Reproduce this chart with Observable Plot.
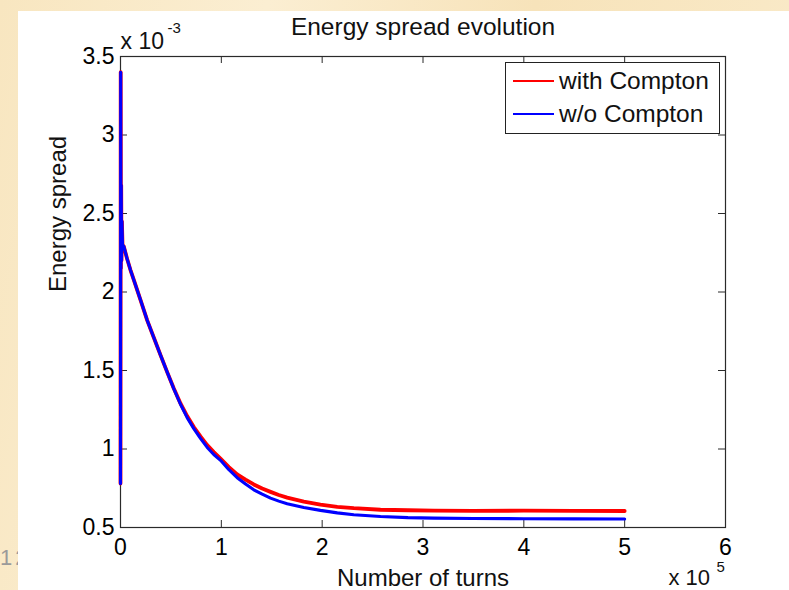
<!DOCTYPE html>
<html>
<head>
<meta charset="utf-8">
<script src="https://cdn.jsdelivr.net/npm/d3@7"></script>
<script src="https://cdn.jsdelivr.net/npm/@observablehq/plot@0.6"></script>
<style>
  html, body { margin: 0; padding: 0; }
  body {
    width: 789px; height: 590px; overflow: hidden; position: relative;
    background: linear-gradient(100deg, #f8e6c0 0%, #fbeed2 30%, #f7e3ba 60%, #faebcb 100%);
    font-family: "Liberation Sans", Arial, sans-serif;
  }
  #slidenum { position: absolute; left: 0px; top: 545px; font-size: 22px; color: #9a9a9a; letter-spacing: 3px; }
  #panel { position: absolute; left: 18px; top: 11px; width: 771px; height: 579px; background: #fff; }
  #chart { position: absolute; left: 0; top: 0; }
  #legend {
    position: absolute; left: 505px; top: 62px; width: 213px; height: 70px;
    border: 1px solid #222; background: #fff; box-sizing: content-box;
  }
  .row { position: absolute; left: 0; height: 30px; width: 213px; }
  .row svg { position: absolute; left: 7px; top: 0; }
  .row span { position: absolute; left: 53px; top: 0; font-size: 24.5px; line-height: 30px; color: #111; white-space: nowrap; }
</style>
</head>
<body>
<div id="slidenum">12</div>
<div id="panel"></div>
<div id="chart"></div>
<div id="legend"></div>
<script>
// ---- data (turns in units of 1e5, energy spread in units of 1e-3) ----
const turns = [0, 0.002, 0.004, 0.007, 0.01, 0.014, 0.02, 0.033, 0.066, 0.099, 0.132, 0.198, 0.264, 0.33, 0.397, 0.463, 0.529, 0.595, 0.661, 0.727, 0.793, 0.86, 0.925, 0.992, 1.075, 1.157, 1.24, 1.322, 1.405, 1.488, 1.57, 1.653, 1.818, 1.983, 2.15, 2.314, 2.579, 2.85, 3.11, 3.5, 4.0, 4.5, 5.0];
const withCompton = [0.78, 3.40, 2.15, 2.68, 2.2, 2.45, 2.3, 2.29, 2.21, 2.14, 2.077, 1.95, 1.821, 1.71, 1.598, 1.49, 1.385, 1.29, 1.21, 1.14, 1.08, 1.025, 0.98, 0.938, 0.885, 0.838, 0.805, 0.774, 0.748, 0.727, 0.707, 0.69, 0.665, 0.645, 0.632, 0.623, 0.613, 0.61, 0.608, 0.606, 0.607, 0.606, 0.605];
const withoutCompton = [0.78, 3.40, 2.15, 2.68, 2.2, 2.45, 2.3, 2.29, 2.21, 2.14, 2.077, 1.95, 1.821, 1.71, 1.598, 1.49, 1.383, 1.285, 1.2, 1.13, 1.068, 1.01, 0.965, 0.928, 0.868, 0.817, 0.777, 0.74, 0.712, 0.687, 0.668, 0.651, 0.628, 0.609, 0.593, 0.581, 0.57, 0.563, 0.56, 0.557, 0.556, 0.555, 0.554];
const seriesNames = ["with Compton", "w/o Compton"];
const seriesColors = ["#ff0000", "#0000ff"];
const xTicks = [0, 1, 2, 3, 4, 5, 6];
const yTicks = [0.5, 1, 1.5, 2, 2.5, 3, 3.5];
const titleText = "Energy spread evolution";
const xLabel = "Number of turns";
const yLabel = "Energy spread";

const rows = [];
turns.forEach((t, i) => rows.push({t, s: withCompton[i], series: seriesNames[0]}));
turns.forEach((t, i) => rows.push({t, s: withoutCompton[i], series: seriesNames[1]}));

const W = 789, H = 590, mL = 120, mR = 64, mT = 56, mB = 63;
const fw = W - mL - mR, fh = H - mT - mB, tl = 7;
const axisColor = "#2a2a2a";
const font = "'Liberation Sans', Arial, Helvetica, sans-serif";

const chart = Plot.plot({
  width: W, height: H,
  marginLeft: mL, marginRight: mR, marginTop: mT, marginBottom: mB,
  x: {domain: [0, 6]},
  y: {domain: [0.5, 3.5]},
  color: {domain: seriesNames, range: seriesColors},
  style: {fontFamily: font, fontSize: "23px", color: "#000", background: "transparent", overflow: "visible"},
  marks: [
    Plot.frame({stroke: axisColor, strokeWidth: 1.2}),
    // inward ticks on all four sides
    Plot.tickX(xTicks, {x: d => d, insetTop: fh - tl, stroke: axisColor}),
    Plot.tickX(xTicks, {x: d => d, insetBottom: fh - tl, stroke: axisColor}),
    Plot.tickY(yTicks, {y: d => d, insetRight: fw - tl, stroke: axisColor}),
    Plot.tickY(yTicks, {y: d => d, insetLeft: fw - tl, stroke: axisColor}),
    Plot.line(rows.filter(d => d.series === seriesNames[0]), {x: "t", y: "s", stroke: "series", strokeWidth: 3.8}),
    Plot.line(rows.filter(d => d.series === seriesNames[1]), {x: "t", y: "s", stroke: "series", strokeWidth: 3.1}),
    Plot.axisX(xTicks, {anchor: "bottom", tickSize: 0, tickPadding: 11, fontSize: 23, label: null, tickFormat: d => String(d)}),
    Plot.axisY(yTicks, {anchor: "left", tickSize: 0, tickPadding: 6, fontSize: 23, label: null, tickFormat: d => String(d)}),
    Plot.text([titleText], {frameAnchor: "top", lineAnchor: "bottom", dy: -22, fontSize: 24.5, fill: "#111"}),
    Plot.text([xLabel], {frameAnchor: "bottom", lineAnchor: "bottom", dy: 58, fontSize: 24, fill: "#111"}),
    Plot.text([yLabel], {frameAnchor: "left", lineAnchor: "bottom", rotate: -90, dx: -55, fontSize: 24, fill: "#111"}),
    Plot.text(["x 10"], {frameAnchor: "top-left", textAnchor: "start", lineAnchor: "bottom", dx: 0, dy: -8, fontSize: 23, fill: "#111"}),
    Plot.text(["-3"], {frameAnchor: "top-left", textAnchor: "start", lineAnchor: "bottom", dx: 47, dy: -24, fontSize: 15, fill: "#111"}),
    Plot.text(["x 10"], {frameAnchor: "bottom-right", textAnchor: "start", lineAnchor: "bottom", dx: -57, dy: 57, fontSize: 22, fill: "#111"}),
    Plot.text(["5"], {frameAnchor: "bottom-right", textAnchor: "start", lineAnchor: "bottom", dx: -9, dy: 44, fontSize: 15, fill: "#111"})
  ]
});
document.getElementById("chart").appendChild(chart);

// legend using the plot's own color scale
const color = chart.scale("color");
const legend = d3.select("#legend");
seriesNames.forEach((name, i) => {
  const row = legend.append("div").attr("class", "row").style("top", (3 + i * 33) + "px");
  const svg = row.append("svg").attr("width", 42).attr("height", 30);
  svg.append("line").attr("x1", 0).attr("x2", 41).attr("y1", 15).attr("y2", 15)
    .attr("stroke", color.range[color.domain.indexOf(name)]).attr("stroke-width", 2);
  row.append("span").text(name);
});
</script>
</body>
</html>
